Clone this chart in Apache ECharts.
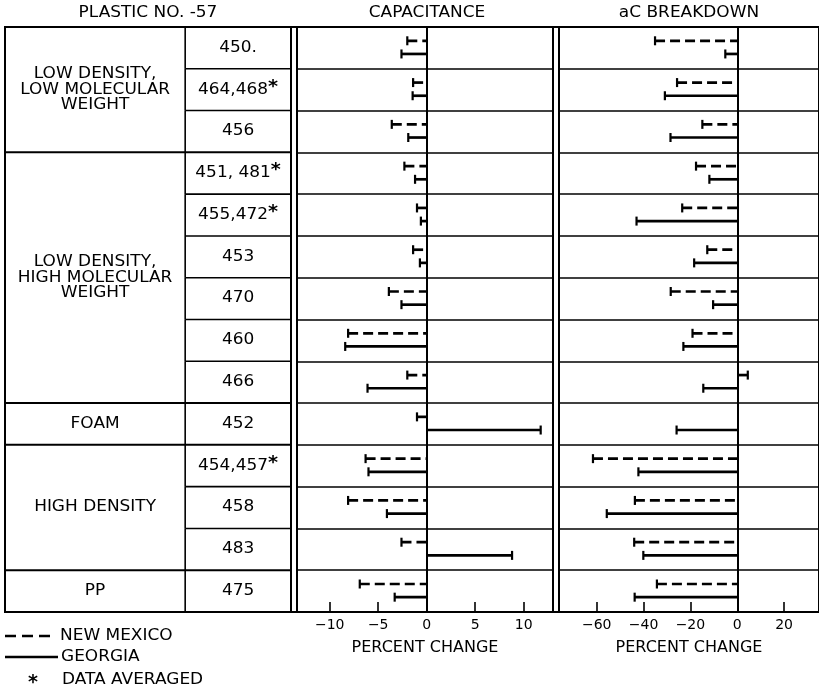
<!DOCTYPE html>
<html>
<head>
<meta charset="utf-8">
<script src="https://cdn.jsdelivr.net/npm/echarts@6/dist/echarts.min.js"></script>
<style>
  html, body { margin: 0; padding: 0; background: #fff; }
  #chart { width: 819px; height: 694px; }
</style>
</head>
<body>
<div id="chart"></div>
<script>
// rows of the table, top to bottom
const plastics = ['450.', '464,468*', '456', '451, 481*', '455,472*', '453', '470', '460', '466', '452', '454,457*', '458', '483', '475'];
const groups = ['LOW DENSITY,\nLOW MOLECULAR\nWEIGHT', 'LOW DENSITY,\nHIGH MOLECULAR\nWEIGHT', 'FOAM', 'HIGH DENSITY', 'PP'];
const groupFirstRow = [0, 3, 9, 10, 13];
const groupLastRow = [2, 8, 9, 12, 13];

// percent change
const capNewMexico = [-2.0, -1.4, -3.6, -2.3, -1.0, -1.4, -3.9, -8.1, -2.0, -1.0, -6.3, -8.1, -2.6, -6.9];
const capGeorgia = [-2.6, -1.45, -1.9, -1.2, -0.6, -0.7, -2.6, -8.4, -6.1, 11.75, -6.0, -4.1, 8.8, -3.3];
const acNewMexico = [-35.1, -25.7, -14.9, -17.6, -23.5, -12.8, -28.4, -19.1, 4.5, null, -61.6, -43.7, -44.0, -34.3];
const acGeorgia = [-5.1, -30.9, -28.5, -11.9, -43.0, -18.4, -10.3, -23.0, -14.5, -25.9, -42.2, -55.7, -40.1, -43.8];

const capTicks = [-10, -5, 0, 5, 10];
const acTicks = [-60, -40, -20, 0, 20];

const INK = '#000';
const FONT = '"DejaVu Sans", sans-serif';
const STRETCH = 1.13;

const chart = echarts.init(document.getElementById('chart'));

function richNumber(s) {
  return s.replace('*', '{s|*}');
}

function barSeries(gridIdx, values, dashed) {
  return {
    type: 'custom',
    name: dashed ? 'NEW MEXICO' : 'GEORGIA',
    xAxisIndex: gridIdx,
    yAxisIndex: gridIdx,
    data: values.map((v, i) => [v == null ? NaN : v, i]),
    encode: { x: 0, y: 1 },
    renderItem: (params, api) => {
      const v = api.value(0);
      if (v == null || isNaN(v)) return null;
      const i = api.value(1);
      const band = api.size([0, 1])[1];
      const end = api.coord([v, i]);
      const zero = api.coord([0, i]);
      const y = end[1] + (dashed ? -0.17 * band : 0.145 * band);
      return {
        type: 'group',
        children: [
          {
            type: 'line',
            shape: { x1: end[0], y1: y, x2: zero[0], y2: y },
            style: { stroke: INK, lineWidth: 2.7, lineDash: dashed ? [10, 5] : null }
          },
          {
            type: 'line',
            shape: { x1: end[0], y1: y - 4.5, x2: end[0], y2: y + 4.5 },
            style: { stroke: INK, lineWidth: 2.2 }
          }
        ]
      };
    }
  };
}

// column divider inside the table, as a fraction of its width
const NUM_COL = 0.63;

const rowSeries = {
  type: 'custom',
  xAxisIndex: 0,
  yAxisIndex: 0,
  data: plastics.map((p, i) => [NUM_COL, i]),
  encode: { x: 0, y: 1 },
  silent: true,
  renderItem: (params, api) => {
    const i = api.value(1);
    const band = api.size([0, 1])[1];
    const left = api.coord([NUM_COL, i]);
    const right = api.coord([1, i]);
    const top = left[1] - band / 2;
    const children = [
      {
        type: 'line',
        shape: { x1: left[0], y1: top, x2: left[0], y2: top + band },
        style: { stroke: INK, lineWidth: 1.6 }
      },
      {
        type: 'text',
        x: (left[0] + right[0]) / 2,
        y: left[1],
        scaleX: 1.13,
        style: {
          text: richNumber(plastics[i]),
          fill: INK,
          font: '15px ' + FONT,
          align: 'center',
          verticalAlign: 'middle',
          rich: {
            s: { font: 'bold 17px ' + FONT, fill: INK, padding: [0, 0, 5, 0] }
          }
        }
      }
    ];
    if (i > 0 && groupFirstRow.indexOf(i) < 0) {
      children.push({
        type: 'line',
        shape: { x1: left[0], y1: top, x2: right[0], y2: top },
        style: { stroke: INK, lineWidth: 1.6 }
      });
    }
    return { type: 'group', children };
  }
};

const groupSeries = {
  type: 'custom',
  xAxisIndex: 0,
  yAxisIndex: 0,
  data: groups.map((g, k) => [groupFirstRow[k], groupLastRow[k]]),
  encode: { y: [0, 1] },
  silent: true,
  renderItem: (params, api) => {
    const first = api.value(0);
    const last = api.value(1);
    const band = api.size([0, 1])[1];
    const a = api.coord([0, first]);
    const b = api.coord([NUM_COL, last]);
    const right = api.coord([1, first]);
    const top = a[1] - band / 2;
    const bottom = b[1] + band / 2;
    const children = [
      {
        type: 'text',
        x: (a[0] + b[0]) / 2,
        y: (top + bottom) / 2,
        scaleX: STRETCH,
        style: {
          text: groups[params.dataIndex],
          fill: INK,
          font: '15px ' + FONT,
          lineHeight: 15.5,
          align: 'center',
          verticalAlign: 'middle'
        }
      }
    ];
    if (first > 0) {
      children.push({
        type: 'line',
        shape: { x1: a[0], y1: top, x2: right[0], y2: top },
        style: { stroke: INK, lineWidth: 2 }
      });
    }
    return { type: 'group', children };
  }
};

function panelXAxis(gridIndex, min, max, ticks) {
  return {
    gridIndex,
    type: 'value',
    min,
    max,
    axisLine: { show: true, onZero: false, lineStyle: { color: INK, width: 2 } },
    axisTick: { show: true, inside: true, length: 10, customValues: ticks, lineStyle: { color: INK, width: 1.6 } },
    axisLabel: {
      customValues: ticks,
      formatter: (v) => (v < 0 ? '−' + Math.abs(v) : String(v)),
      color: INK,
      fontSize: 14,
      fontFamily: FONT,
      margin: 6
    },
    splitLine: { show: false },
    name: 'PERCENT CHANGE',
    nameLocation: 'middle',
    nameGap: 28,
    nameTextStyle: { color: INK, fontSize: 16, fontFamily: FONT }
  };
}

function panelYAxis(gridIndex) {
  return {
    gridIndex,
    type: 'category',
    data: plastics,
    inverse: true,
    axisLine: { show: true, onZero: true, lineStyle: { color: INK, width: 2 } },
    axisTick: { show: false },
    axisLabel: { show: false },
    splitLine: { show: true, lineStyle: { color: INK, width: 1.5 } }
  };
}

function headerText(label, cx) {
  return {
    type: 'text',
    x: cx,
    y: 13,
    scaleX: STRETCH,
    style: { text: label, fill: INK, font: '15px ' + FONT, align: 'center', verticalAlign: 'middle' }
  };
}

function legendText(label, x, y) {
  return {
    type: 'text',
    x,
    y,
    scaleX: STRETCH,
    style: { text: label, fill: INK, font: '15px ' + FONT, align: 'left', verticalAlign: 'middle' }
  };
}

chart.setOption({
  animation: false,
  backgroundColor: '#fff',
  grid: [
    { left: 5, width: 286, top: 27, bottom: 82, show: true, borderColor: INK, borderWidth: 2 },
    { left: 297, right: 266, top: 27, bottom: 82, show: true, borderColor: INK, borderWidth: 2 },
    { left: 559, right: -3, top: 27, bottom: 82, show: true, borderColor: INK, borderWidth: 2 }
  ],
  xAxis: [
    { gridIndex: 0, type: 'value', min: 0, max: 1, show: false },
    panelXAxis(1, -13.37, 13.02, capTicks),
    panelXAxis(2, -76.1, 34.9, acTicks)
  ],
  yAxis: [
    { gridIndex: 0, type: 'category', data: plastics, inverse: true, show: false },
    panelYAxis(1),
    panelYAxis(2)
  ],
  graphic: [
    headerText('PLASTIC NO. -57', 148),
    headerText('CAPACITANCE', 427),
    headerText('aC BREAKDOWN', 689),
    { type: 'line', shape: { x1: 5, y1: 27, x2: 819, y2: 27 }, style: { stroke: INK, lineWidth: 2 } },
    { type: 'line', shape: { x1: 5, y1: 612, x2: 819, y2: 612 }, style: { stroke: INK, lineWidth: 2 } },
    { type: 'line', shape: { x1: 5, y1: 636, x2: 51, y2: 636 }, style: { stroke: INK, lineWidth: 2.7, lineDash: [11, 6] } },
    legendText('NEW MEXICO', 60, 636),
    { type: 'line', shape: { x1: 5, y1: 657, x2: 58, y2: 657 }, style: { stroke: INK, lineWidth: 2.7 } },
    legendText('GEORGIA', 61, 657),
    { type: 'text', x: 33, y: 683, style: { text: '*', fill: INK, font: 'bold 19px ' + FONT, align: 'center', verticalAlign: 'middle' } },
    legendText('DATA AVERAGED', 62, 680)
  ],
  series: [
    groupSeries,
    rowSeries,
    barSeries(1, capNewMexico, true),
    barSeries(1, capGeorgia, false),
    barSeries(2, acNewMexico, true),
    barSeries(2, acGeorgia, false)
  ]
});
</script>
</body>
</html>
